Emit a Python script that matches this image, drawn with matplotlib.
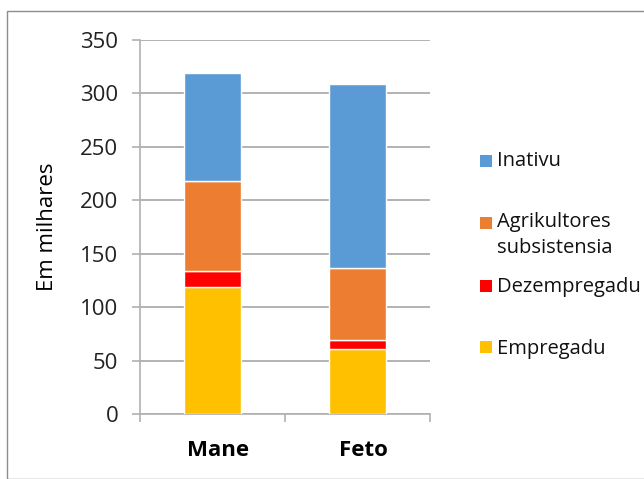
import matplotlib
matplotlib.use("Agg")
import matplotlib.pyplot as plt
from matplotlib.patches import Rectangle
import matplotlib.transforms as mtransforms
import numpy as np

categories = ["Mane", "Feto"]
empregadu = [119, 61]
dezempregadu = [15, 8]
agrikultores = [84, 68]
inativu = [101, 172]
series_labels = ["Empregadu", "Dezempregadu", "Agrikultores\nsubsistensia", "Inativu"]
colors = ["#FFC000", "#FF0000", "#ED7D31", "#5B9BD5"]
yticks = [0, 50, 100, 150, 200, 250, 300, 350]

plt.rcParams['font.family'] = ['Open Sans', 'DejaVu Sans']

W, H = 644, 479
fig = plt.figure(figsize=(W / 100, H / 100), dpi=100)
fig.patches.append(Rectangle((7/W, 0), 1, 1 - 11/H, transform=fig.transFigure,
                             fill=False, edgecolor="#8c8c8c", linewidth=1.0))

ax = fig.add_axes([140/W, 1 - 414/H, 290/W, 374/H])
x = np.arange(len(categories))
bottom = np.zeros(len(categories))
for vals, lab, col in zip([empregadu, dezempregadu, agrikultores, inativu], series_labels, colors):
    ax.bar(x, vals, width=0.39, bottom=bottom, color=col, edgecolor="white",
           linewidth=1.0, label=lab, zorder=3)
    bottom += np.array(vals)

ax.set_xlim(-0.5, 1.5)
ax.set_ylim(0, 350)
ax.set_yticks(yticks)
ax.yaxis.grid(True, color="#a6a6a6", linewidth=1.2, zorder=0)
ax.set_axisbelow(True)
for s in ["top", "right"]:
    ax.spines[s].set_visible(False)
for s in ["left", "bottom"]:
    ax.spines[s].set_color("#b0b0b0")
    ax.spines[s].set_linewidth(1.2)
ax.tick_params(axis="y", length=5.5, color="#b0b0b0", width=1.2, labelsize=16, pad=10,
               labelcolor="#222222")
ax.set_xticks(x)
ax.set_xticklabels(categories, fontsize=16, fontweight="bold")
ax.tick_params(axis="x", length=0, pad=19)
offset = mtransforms.ScaledTranslation(6 / 100, 0, fig.dpi_scale_trans)
for lbl in ax.get_xticklabels():
    lbl.set_transform(lbl.get_transform() + offset)
ax.set_xticks([-0.5, 0.5, 1.5], minor=True)
ax.tick_params(axis="x", which="minor", length=6, color="#b0b0b0", width=1.2)
ax.set_ylabel("Em milhares", fontsize=16)
ax.yaxis.set_label_coords((58 - 140) / 290, 0.5)

# Legend drawn entry by entry (Excel-style irregular spacing)
leg_labels = series_labels[::-1]
leg_colors = colors[::-1]
marker_y = [161, 223, 286, 347]
text_y = [161, 235, 287, 349]
for lab, col, my, ty in zip(leg_labels, leg_colors, marker_y, text_y):
    fig.patches.append(Rectangle((480/W, 1 - (my + 6)/H), 12/W, 12/H,
                                 transform=fig.transFigure, facecolor=col,
                                 edgecolor="none"))
    fig.text(497/W, 1 - ty/H, lab, fontsize=14.5, va="center", ha="left",
             linespacing=1.4, color="#111111")

fig.savefig("out.png", dpi=100)
